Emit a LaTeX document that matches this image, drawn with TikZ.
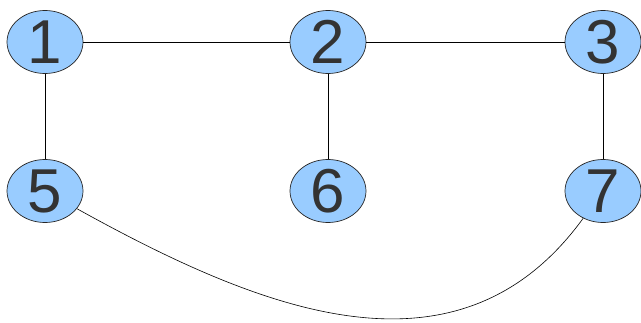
\documentclass[tikz,border=0pt]{standalone}
\usepackage{fontspec}
\setmainfont{Liberation Sans}
\usetikzlibrary{shapes.geometric}
\definecolor{nodeblue}{HTML}{99CCFF}
\definecolor{digitgray}{HTML}{333333}

\begin{document}
\begin{tikzpicture}[x=1pt, y=-1pt,
    vertex/.style={ellipse, draw=black!85, fill=nodeblue, line width=0.7pt,
      minimum width=76pt, minimum height=63pt, inner sep=0pt,
      text=digitgray, font=\fontsize{62}{62}\selectfont}]
        \useasboundingbox (0,0) rectangle (641,322);

        % Vertices
        \node[vertex] (v1) at (45,42) {1};
        \node[vertex] (v2) at (328,42) {2};
        \node[vertex] (v3) at (603,42) {3};
        \node[vertex] (v5) at (45,191) {5};
        \node[vertex] (v6) at (328,191) {6};
        \node[vertex] (v7) at (603,191) {7};

        % Edges
        \draw[line width=0.6pt] (v1) -- (v2);
        \draw[line width=0.6pt] (v2) -- (v3);
        \draw[line width=0.6pt] (v1) -- (v5);
        \draw[line width=0.6pt] (v2) -- (v6);
        \draw[line width=0.6pt] (v3) -- (v7);
        \draw[line width=0.6pt] (v5) to[out=-29, in=-126, looseness=1.07] (v7);
\end{tikzpicture}
\end{document}
